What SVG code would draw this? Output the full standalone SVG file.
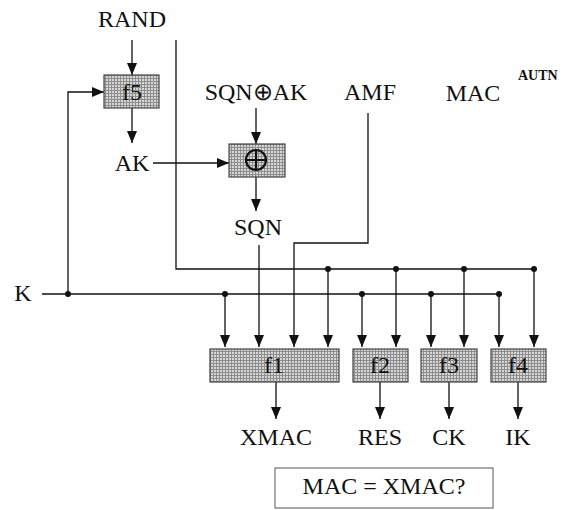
<svg xmlns="http://www.w3.org/2000/svg" width="571" height="510" viewBox="0 0 571 510">
<style>
text{font-family:Liberation Serif,serif;font-size:24px;fill:#111;text-anchor:middle}
.bold{font-weight:bold;font-size:14px;text-anchor:start}
.ln{fill:none;stroke:#111;stroke-width:1.3}
.ar{fill:none;stroke:#111;stroke-width:1.3;marker-end:url(#arr)}
.box{fill:url(#stip);stroke:#444;stroke-width:1.2}
.dot{fill:#111}
</style>
<defs>
<pattern id="stip" width="3" height="3" patternUnits="userSpaceOnUse">
<rect width="3" height="3" fill="#8e8e8e"/>
<rect x="1" y="1" width="2" height="2" fill="#d6d6d6"/>
</pattern>
<marker id="arr" viewBox="0 0 12 10" refX="12" refY="5" markerWidth="12" markerHeight="10" markerUnits="userSpaceOnUse" orient="auto">
<path d="M0,0 L12,5 L0,10 Z" fill="#111"/>
</marker>
</defs>
<g id="connectors">
<path class="ar" d="M132,40 V75"/>
<path class="ln" d="M176,40 V269 H534"/>
<path class="ar" d="M68,294 V92 H104"/>
<path class="ar" d="M132,108 V143"/>
<path class="ar" d="M153,163 H229"/>
<path class="ar" d="M256,108 V144"/>
<path class="ar" d="M256,177 V211"/>
<path class="ar" d="M259,245 V347"/>
<path class="ar" d="M368,113 V243 H294 V347"/>
<path class="ln" d="M42,294 H499"/>
<path class="ar" d="M225,294 V347"/>
<path class="ar" d="M362,294 V347"/>
<path class="ar" d="M431,294 V347"/>
<path class="ar" d="M499,294 V347"/>
<path class="ar" d="M328,269 V347"/>
<path class="ar" d="M396,269 V347"/>
<path class="ar" d="M464,269 V347"/>
<path class="ar" d="M534,269 V347"/>
<path class="ar" d="M276,382 V419"/>
<path class="ar" d="M380,382 V419"/>
<path class="ar" d="M449,382 V419"/>
<path class="ar" d="M518,382 V419"/>
<circle class="dot" cx="68" cy="294" r="3"/>
<circle class="dot" cx="225" cy="294" r="3"/>
<circle class="dot" cx="362" cy="294" r="3"/>
<circle class="dot" cx="431" cy="294" r="3"/>
<circle class="dot" cx="499" cy="294" r="3"/>
<circle class="dot" cx="328" cy="269" r="3"/>
<circle class="dot" cx="396" cy="269" r="3"/>
<circle class="dot" cx="464" cy="269" r="3"/>
<circle class="dot" cx="534" cy="269" r="3"/>
</g>
<g id="rand"><text x="132" y="27">RAND</text></g>
<g id="f5"><rect class="box" x="104" y="75" width="55" height="33"/><text x="132" y="100">f5</text></g>
<g id="ak"><text x="132" y="171">AK</text></g>
<g id="sqnxorak"><text x="256" y="100">SQN⊕AK</text></g>
<g id="xor"><rect class="box" x="229" y="144" width="56" height="33"/>
<circle cx="256" cy="160" r="10" fill="none" stroke="#111" stroke-width="2.2"/>
<path d="M246,160 H266 M256,150 V170" stroke="#111" stroke-width="2.2"/></g>
<g id="sqn"><text x="258" y="235">SQN</text></g>
<g id="amf"><text x="370" y="100">AMF</text></g>
<g id="mac"><text x="473" y="101">MAC</text></g>
<g id="autn"><text class="bold" x="518" y="80">AUTN</text></g>
<g id="k"><text x="23" y="301">K</text></g>
<g id="f1"><rect class="box" x="210" y="349" width="129" height="33"/><text x="274" y="373">f1</text></g>
<g id="f2"><rect class="box" x="353" y="349" width="55" height="33"/><text x="380" y="373">f2</text></g>
<g id="f3"><rect class="box" x="421" y="349" width="56" height="33"/><text x="449" y="373">f3</text></g>
<g id="f4"><rect class="box" x="491" y="349" width="55" height="33"/><text x="518" y="373">f4</text></g>
<g id="xmac"><text x="276" y="445">XMAC</text></g>
<g id="res"><text x="380" y="445">RES</text></g>
<g id="ck"><text x="449" y="445">CK</text></g>
<g id="ik"><text x="518" y="445">IK</text></g>
<g id="compare"><rect x="275" y="468" width="218" height="40" fill="#fff" stroke="#555" stroke-width="1"/><text x="384" y="494">MAC = XMAC?</text></g>
</svg>
